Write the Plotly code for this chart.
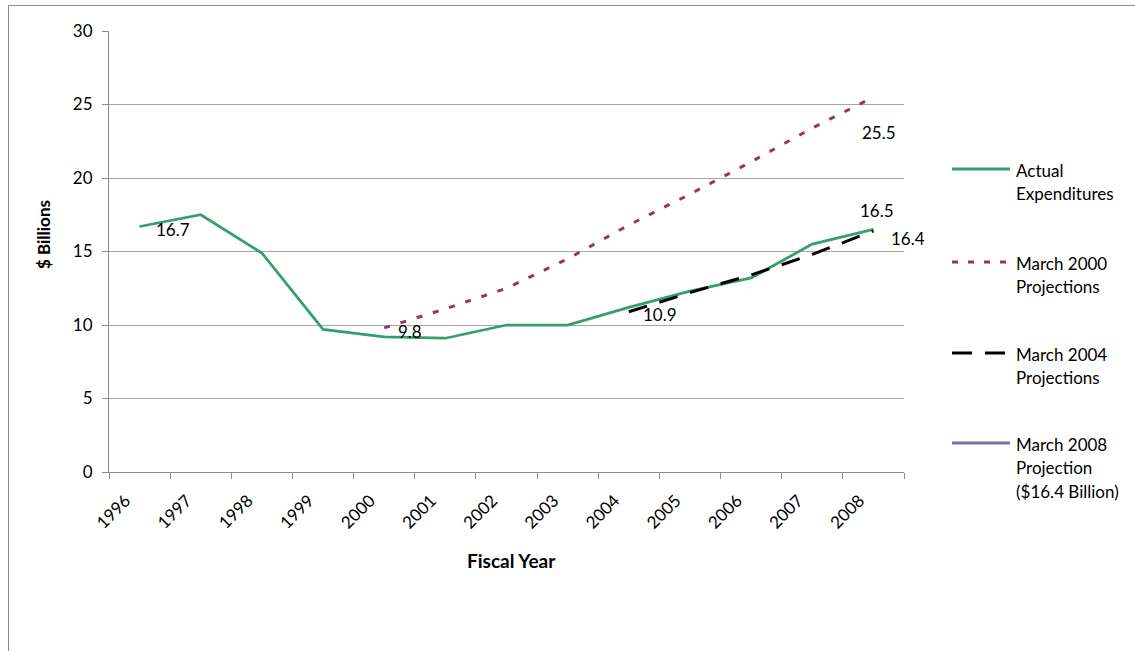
import plotly.graph_objects as go

# Fiscal years on the category axis
years = ["1996", "1997", "1998", "1999", "2000", "2001", "2002",
         "2003", "2004", "2005", "2006", "2007", "2008"]

# $ billions; None where a series has no value
actual = [16.7, 17.5, 14.9, 9.7, 9.2, 9.1, 10.0, 10.0, 11.2, 12.3, 13.2, 15.5, 16.5]
proj_2000 = [None, None, None, None, 9.8, 11.1, 12.5, 14.5, 16.8, 18.9, 21.1, 23.4, 25.5]
proj_2004 = [None, None, None, None, None, None, None, None, 10.9, 12.2, 13.4, 14.8, 16.4]
proj_2008 = [None] * 12 + [16.4]

y_ticks = [0, 5, 10, 15, 20, 25, 30]

FONT = "Lato"
GREEN = "#34a067"
PLUM = "#993366"
SLATE = "#7472ad"
GRID = "#a6a6a6"
AXIS = "#8c8c8c"

fig = go.Figure()
fig.add_trace(go.Scatter(x=years, y=actual, mode="lines", name="Actual Expenditures",
                         line=dict(color=GREEN, width=2.75), showlegend=False))
fig.add_trace(go.Scatter(x=years, y=proj_2000, mode="lines", name="March 2000 Projections",
                         line=dict(color=PLUM, width=3, dash="6px,11px"), showlegend=False))
fig.add_trace(go.Scatter(x=years, y=proj_2004, mode="lines", name="March 2004 Projections",
                         line=dict(color="black", width=3, dash="19px,13px"), showlegend=False))
fig.add_trace(go.Scatter(x=years, y=proj_2008, mode="lines",
                         name="March 2008 Projection ($16.4 Billion)",
                         line=dict(color=SLATE, width=3), showlegend=False))

# Value labels: (series, year index, anchor, x shift, y shift)
value_labels = [
    (actual, 0, "left", 14, -3),
    (proj_2000, 4, "left", 12, -4),
    (proj_2004, 8, "left", 12, -3),
    (proj_2000, 12, "center", 6, -35),
    (actual, 12, "center", 4, 19),
    (proj_2004, 12, "left", 16, -8),
]
annotations = []
for series, i, anchor, dx, dy in value_labels:
    v = series[i]
    # category axis: position by category index
    annotations.append(dict(x=i, y=v, xref="x", yref="y", text=f"{v:.1f}",
                            showarrow=False, xanchor=anchor, yanchor="middle",
                            xshift=dx, yshift=dy,
                            font=dict(family=FONT, size=17, color="black")))

# Plot area in pixels: x 109..904, y 31..472
L, R, T, B = 109, 904, 31, 472


def px(xp):
    return (xp - L) / (R - L)


def py(yp):
    return (B - yp) / (B - T)


# Axis titles
annotations.append(dict(x=px(44), y=py(235), xref="paper", yref="paper", text="<b>$ Billions</b>",
                        textangle=-90, showarrow=False, xanchor="center", yanchor="middle",
                        font=dict(family=FONT, size=17, color="black")))
annotations.append(dict(x=px(511), y=py(560), xref="paper", yref="paper", text="<b>Fiscal Year</b>",
                        showarrow=False, xanchor="center", yanchor="middle",
                        font=dict(family=FONT, size=19, color="black")))

# Legend drawn beside the plot
legend_items = [
    ("Actual Expenditures", ["Actual", "Expenditures"], dict(color=GREEN, width=3), 169),
    ("March 2000 Projections", ["March 2000", "Projections"], dict(color=PLUM, width=3, dash="6px,10px"), 262),
    ("March 2004 Projections", ["March 2004", "Projections"], dict(color="black", width=3, dash="20px,13px"), 353),
    ("March 2008 Projection", ["March 2008", "Projection", "($16.4 Billion)"], dict(color=SLATE, width=3), 443),
]
shapes = []
for _, lines, style, y0 in legend_items:
    shapes.append(dict(type="line", xref="paper", yref="paper",
                       x0=px(952), x1=px(1010), y0=py(y0), y1=py(y0), line=style))
    for k, txt in enumerate(lines):
        annotations.append(dict(x=px(1014), y=py(y0 + 1 + 23.5 * k), xref="paper", yref="paper",
                                text=txt, showarrow=False, xanchor="left", yanchor="middle",
                                font=dict(family=FONT, size=17, color="black")))

# Chart border
shapes.append(dict(type="rect", xref="paper", yref="paper",
                   x0=px(8.5), x1=px(1145), y0=py(5.5), y1=py(660),
                   line=dict(color=AXIS, width=1), fillcolor="rgba(0,0,0,0)", layer="below"))

fig.update_layout(
    width=1135, height=651,
    margin=dict(l=L, r=1135 - R, t=T, b=651 - B),
    paper_bgcolor="white", plot_bgcolor="white",
    font=dict(family=FONT, size=17, color="black"),
    showlegend=False,
    annotations=annotations,
    shapes=shapes,
    xaxis=dict(type="category", categoryorder="array", categoryarray=years,
               range=[-0.5, len(years) - 0.5], tickangle=-45, tickson="boundaries",
               ticks="outside", ticklen=6, tickcolor=AXIS,
               ticklabelstandoff=11, ticklabelshift=-14,
               showline=True, linecolor=AXIS, linewidth=1, showgrid=False,
               tickfont=dict(family=FONT, size=17, color="black")),
    yaxis=dict(range=[0, 30], tickvals=y_ticks, ticks="outside", ticklen=6, tickcolor=AXIS,
               ticklabelstandoff=6,
               showline=True, linecolor=AXIS, linewidth=1,
               showgrid=True, gridcolor=GRID, gridwidth=1, zeroline=False,
               tickfont=dict(family=FONT, size=17, color="black")),
)

fig.write_html("out.html")
